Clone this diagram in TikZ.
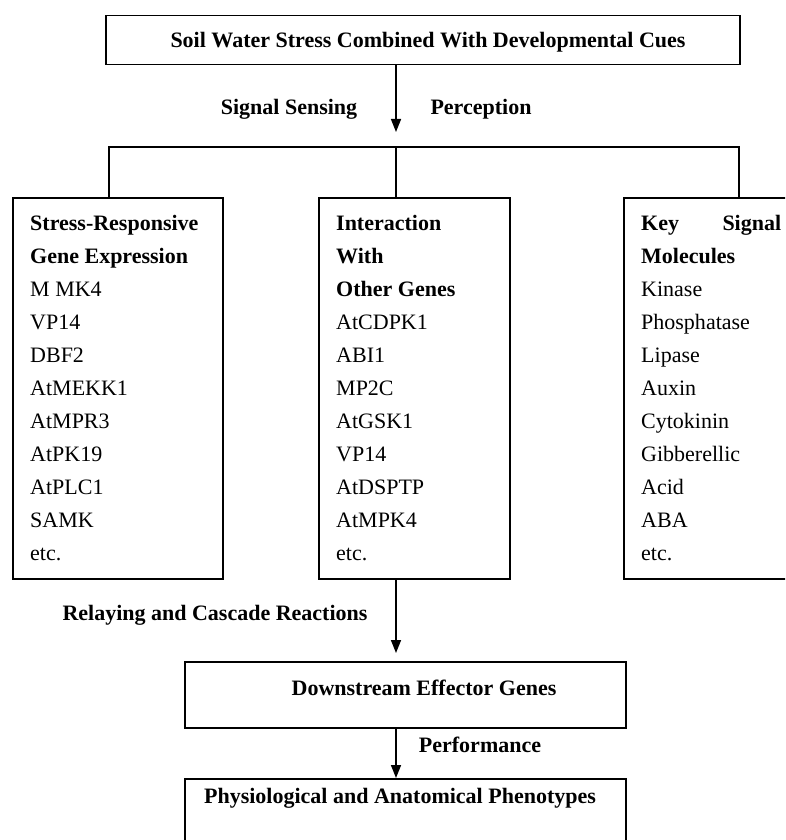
\documentclass[tikz,border=0pt]{standalone}
\usepackage{fontspec}
\setmainfont{Liberation Serif}
\usetikzlibrary{arrows.meta}
\begin{document}
\begin{tikzpicture}[x=1pt,y=-1pt,
  box/.style={draw, line width=1.5pt, inner sep=0pt, anchor=north west},
  lbl/.style={font=\fontsize{22}{26}\selectfont\bfseries, inner sep=0pt, anchor=base},
  item/.style={font=\fontsize{22}{26}\selectfont, inner sep=0pt, anchor=base west},
  conn/.style={line width=1.5pt},
  arr/.style={conn, -{Triangle[length=13pt,width=10pt]}}]
\useasboundingbox (0,0) rectangle (785,840);
\clip (0,0) rectangle (785,840);
% boxes
\node[box, minimum width=634pt, minimum height=49pt] (top) at (105,15) {};
\node[box, minimum width=210pt, minimum height=381pt] (left) at (12,197) {};
\node[box, minimum width=191pt, minimum height=381pt] (mid) at (318,197) {};
\node[box, minimum width=180pt, minimum height=381pt] (right) at (623,197) {};
\node[box, minimum width=441pt, minimum height=66pt] (down) at (184,661) {};
\node[box, minimum width=441pt, minimum height=70pt] (bottom) at (184,778) {};
% box titles
\node[lbl] (toptxt) at (428,48) {Soil Water Stress Combined With Developmental Cues};
\node[lbl] (dtxt) at (424,695) {Downstream Effector Genes};
\node[lbl] (ptxt) at (400,803) {Physiological and Anatomical Phenotypes};
% connector labels
\node[lbl] (ss) at (289,115) {Signal Sensing};
\node[lbl] (pc) at (481,115) {Perception};
\node[lbl] (rc) at (215,620) {Relaying and Cascade Reactions};
\node[lbl] (pf) at (480,752) {Performance};
% connectors
\coordinate (a1) at (396,132);
\draw[arr] (top.south -| a1) -- (a1);
\coordinate (bl) at (109,147);
\coordinate (bm) at (396,147);
\coordinate (br) at (739,147);
\draw[conn] (left.north -| bl) -- (bl) -- (br) -- (right.north -| br);
\draw[conn] (bm) -- (mid.north -| bm);
\coordinate (a2) at (396,600);
\draw[arr, shorten >=8pt] (mid.south -| a2) -- (down.north -| a2);
\draw[arr] (down.south -| a2) -- (bottom.north -| a2);
% lists
\foreach [count=\i] \t in {\textbf{Stress-Responsive}, \textbf{Gene Expression}, M MK4, VP14, DBF2, AtMEKK1, AtMPR3, AtPK19, AtPLC1, SAMK, etc.}
  \node[item] (l\i) at (30,{230+33*(\i-1)}) {\t};
\foreach [count=\i] \t in {\textbf{Interaction}, \textbf{With}, \textbf{Other Genes}, AtCDPK1, ABI1, MP2C, AtGSK1, VP14, AtDSPTP, AtMPK4, etc.}
  \node[item] (m\i) at (336,{230+33*(\i-1)}) {\t};
\foreach [count=\i] \t in {\textbf{\makebox[140pt][s]{Key\hfill Signal}}, \textbf{Molecules}, Kinase, Phosphatase, Lipase, Auxin, Cytokinin, Gibberellic, Acid, ABA, etc.}
  \node[item] (r\i) at (641,{230+33*(\i-1)}) {\t};
\end{tikzpicture}
\end{document}
